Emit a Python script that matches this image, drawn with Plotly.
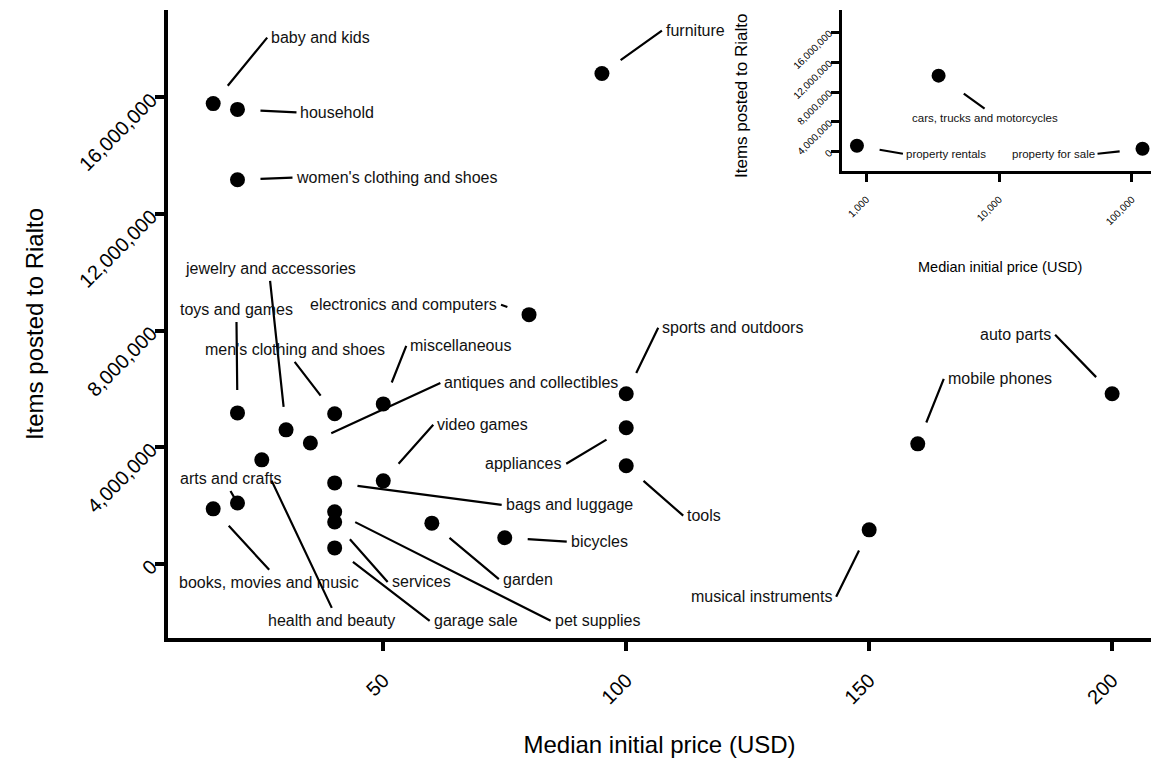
import numpy as np
import plotly.graph_objects as go

# ---------------- data ----------------
categories = [
    "baby and kids", "household", "women's clothing and shoes", "furniture",
    "jewelry and accessories", "toys and games", "electronics and computers",
    "men's clothing and shoes", "miscellaneous", "antiques and collectibles",
    "video games", "bags and luggage", "appliances", "sports and outdoors",
    "tools", "bicycles", "garden", "arts and crafts", "books, movies and music",
    "health and beauty", "services", "garage sale", "pet supplies",
    "musical instruments", "mobile phones", "auto parts",
]
median_price = [15, 20, 20, 95, 30, 20, 80, 40, 50, 35, 50, 40, 100, 100,
                100, 75, 60, 20, 15, 25, 40, 40, 40, 150, 160, 200]
items_posted = [15_790_000, 15_590_000, 13_180_000, 16_820_000, 4_600_000,
                5_180_000, 8_550_000, 5_150_000, 5_490_000, 4_150_000,
                2_850_000, 2_780_000, 4_670_000, 5_840_000, 3_370_000,
                900_000, 1_400_000, 2_090_000, 1_890_000, 3_570_000,
                1_440_000, 550_000, 1_790_000, 1_170_000, 4_120_000, 5_840_000]

inset_categories = ["cars, trucks and motorcycles", "property rentals", "property for sale"]
inset_price = [3_500, 850, 120_000]
inset_items = [10_200_000, 800_000, 400_000]

x_ticks = [50, 100, 150, 200]
y_ticks = [0, 4_000_000, 8_000_000, 12_000_000, 16_000_000]
inset_x_ticks = [1_000, 10_000, 100_000]

# ---------------- label layout (pixel offsets of the label anchor from its point) ----------------
label_layout = {
    "baby and kids": (54, -66, "left", "middle"),
    "household": (59, 3, "left", "middle"),
    "women's clothing and shoes": (55, -2, "left", "middle"),
    "furniture": (60, -43, "left", "middle"),
    "jewelry and accessories": (-16, -149, "center", "bottom"),
    "toys and games": (-1, -91, "center", "bottom"),
    "electronics and computers": (-28, -10, "right", "middle"),
    "men's clothing and shoes": (-40, -52, "center", "bottom"),
    "miscellaneous": (23, -58, "left", "middle"),
    "antiques and collectibles": (130, -60, "left", "middle"),
    "video games": (50, -56, "left", "middle"),
    "bags and luggage": (167, 22, "left", "middle"),
    "appliances": (-60, 36, "right", "middle"),
    "sports and outdoors": (32, -66, "left", "middle"),
    "tools": (57, 50, "left", "middle"),
    "bicycles": (62, 4, "left", "middle"),
    "garden": (67, 56, "left", "middle"),
    "arts and crafts": (-7, -12, "center", "bottom"),
    "books, movies and music": (56, 61, "center", "top"),
    "health and beauty": (70, 148, "center", "top"),
    "services": (53, 60, "left", "middle"),
    "garage sale": (95, 73, "left", "middle"),
    "pet supplies": (216, 109, "left", "middle"),
    "musical instruments": (-33, 67, "right", "middle"),
    "mobile phones": (26, -65, "left", "middle"),
    "auto parts": (-57, -59, "right", "middle"),
}
inset_label_layout = {
    "cars, trucks and motorcycles": (46, 33, "center", "top"),
    "property rentals": (46, 8, "left", "middle"),
    "property for sale": (-45, 5, "right", "middle"),
}
inset_standoff = {"cars, trucks and motorcycles": 31, "property rentals": 23,
                  "property for sale": 23}

FONT = "Liberation Sans, Arial, Helvetica, sans-serif"

fig = go.Figure()

fig.add_trace(go.Scatter(
    x=median_price, y=items_posted, mode="markers", text=categories,
    marker=dict(size=15, color="black"), xaxis="x", yaxis="y",
    hoverinfo="text", showlegend=False,
))
fig.add_trace(go.Scatter(
    x=inset_price, y=inset_items, mode="markers", text=inset_categories,
    marker=dict(size=14, color="black"), xaxis="x2", yaxis="y2",
    hoverinfo="text", showlegend=False,
))

annotations = []
for name, px, iy in zip(categories, median_price, items_posted):
    ax, ay, xa, ya = label_layout[name]
    annotations.append(dict(
        x=px, y=iy, xref="x", yref="y", text=name, showarrow=True,
        ax=ax, ay=ay, xanchor=xa, yanchor=ya,
        arrowhead=0, arrowwidth=2.2, arrowcolor="black",
        standoff=6 if name == "arts and crafts" else 23, borderpad=3,
        font=dict(family=FONT, size=16, color="#111111"),
    ))
for name, px, iy in zip(inset_categories, inset_price, inset_items):
    ax, ay, xa, ya = inset_label_layout[name]
    annotations.append(dict(
        x=np.log10(px), y=iy, xref="x2", yref="y2", text=name, showarrow=True,
        ax=ax, ay=ay, xanchor=xa, yanchor=ya,
        arrowhead=0, arrowwidth=2.2, arrowcolor="black",
        standoff=inset_standoff[name], borderpad=2,
        font=dict(family=FONT, size=11.5, color="#111111"),
    ))
# inset axis titles
annotations.append(dict(
    x=(742 - 168) / 983, y=(638 - 96) / 628, xref="paper", yref="paper",
    text="Items posted to Rialto", textangle=-90, showarrow=False,
    xanchor="center", yanchor="middle",
    font=dict(family=FONT, size=17, color="black"),
))
annotations.append(dict(
    x=(1000 - 168) / 983, y=(638 - 267) / 628, xref="paper", yref="paper",
    text="Median initial price (USD)", showarrow=False,
    xanchor="center", yanchor="middle",
    font=dict(family=FONT, size=14.5, color="black"),
))

axis_common = dict(showline=True, linecolor="black", showgrid=False,
                   zeroline=False, ticks="outside", tickcolor="black")

fig.update_layout(
    width=1151, height=760,
    margin=dict(l=168, r=0, t=10, b=122, pad=0),
    plot_bgcolor="white", paper_bgcolor="white",
    showlegend=False,
    annotations=annotations,
    xaxis=dict(
        **axis_common, domain=[0, 1], range=[5.7, 208],
        linewidth=3.5, ticklen=9, tickwidth=3.5,
        tickvals=x_ticks, ticktext=[f"{v:,}" for v in x_ticks], tickangle=-45,
        ticklabelstandoff=10,
        tickfont=dict(family=FONT, size=20, color="black"),
        title=dict(text="Median initial price (USD)", standoff=30,
                   font=dict(family=FONT, size=24, color="black")),
    ),
    yaxis=dict(
        **axis_common, domain=[0, 1], range=[-2_540_000, 19_000_000],
        linewidth=3.5, ticklen=9, tickwidth=3.5,
        tickvals=y_ticks, ticktext=[f"{v:,}" for v in y_ticks], tickangle=-45,
        tickfont=dict(family=FONT, size=20, color="black"),
        title=dict(text="Items posted to Rialto", standoff=25,
                   font=dict(family=FONT, size=24, color="black")),
    ),
    xaxis2=dict(
        **axis_common, domain=[0.686, 1.0], anchor="y2", type="log",
        range=[np.log10(660), np.log10(139_000)],
        linewidth=3, ticklen=8, tickwidth=3,
        tickvals=inset_x_ticks, ticktext=[f"{v:,}" for v in inset_x_ticks], tickangle=-45,
        ticklabelstandoff=8,
        tickfont=dict(family=FONT, size=10, color="black"),
    ),
    yaxis2=dict(
        **axis_common, domain=[0.744, 1.0], anchor="x2",
        range=[-2_550_000, 19_000_000],
        linewidth=3, ticklen=8, tickwidth=3,
        tickvals=y_ticks, ticktext=[f"{v:,}" for v in y_ticks], tickangle=-45,
        tickfont=dict(family=FONT, size=10, color="black"),
    ),
)

fig.write_html("out.html", config={"displayModeBar": False},
               post_script="document.body.style.margin='0';")
